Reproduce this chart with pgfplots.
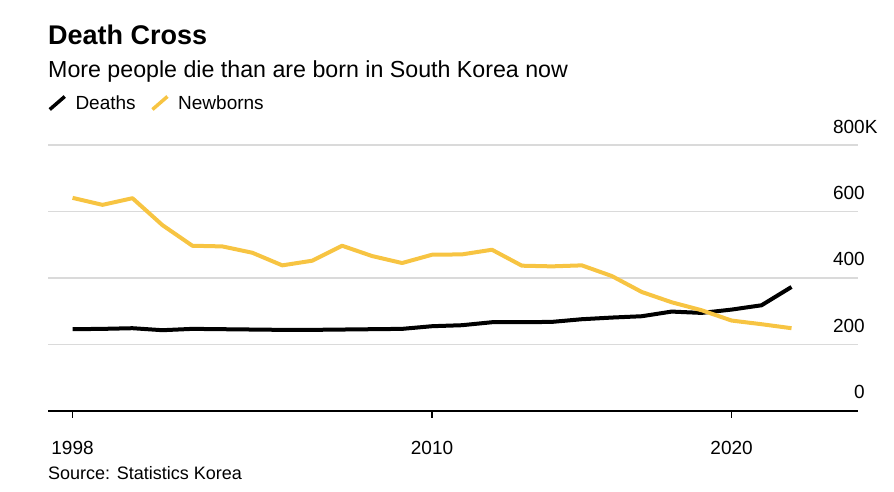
\documentclass[border=0pt]{standalone}
\usepackage{pgfplots}
\pgfplotsset{compat=1.18}
\usepackage{fontspec}
\setmainfont{Liberation Sans}
\definecolor{byellow}{RGB}{247,196,66}
\definecolor{bgrid}{RGB}{218,218,218}
\begin{document}
\begin{tikzpicture}
\path[use as bounding box] (0pt,0pt) rectangle (894pt,492pt);
\node[anchor=base west, inner sep=0pt] at (48pt,447pt) {\fontsize{27}{30}\selectfont\bfseries Death Cross};
\node[anchor=base west, inner sep=0pt] at (48pt,414pt) {\fontsize{23.2}{26}\selectfont More people die than are born in South Korea now};
\node[anchor=base west, inner sep=0pt] at (48pt,12pt) {\fontsize{18}{21}\selectfont Source: Statistics Korea};
\begin{axis}[
  at={(48pt,81pt)}, anchor=south west,
  scale only axis, width=810pt, height=266pt,
  xmin=1997.18, xmax=2024.22, ymin=0, ymax=800,
  axis x line*=bottom, axis y line*=right,
  y axis line style={draw=none},
  x axis line style={line width=1.3pt, black},
  xtick={1998,2010,2020},
  xticklabels={1998,2010,2020},
  ytick={0,200,400,600,800},
  yticklabels={0,200,400,600,800\rlap{K}},
  yticklabel pos=right,
  tick align=outside, major tick length=7pt,
  xtick style={line width=1.2pt, black},
  ytick style={draw=none},
  ymajorgrids, grid style={bgrid, line width=1.6pt},
  tick label style={font=\fontsize{19}{22}\selectfont, inner sep=0pt},
  xticklabel style={anchor=base, yshift=-37pt},
  yticklabel style={anchor=base east, yshift=12pt},
  legend style={at={(0,1)}, anchor=west, yshift=42pt, draw=none, fill=none,
    inner sep=0pt, outer sep=0pt,
    nodes={inner sep=0pt, font=\fontsize{19}{22}\selectfont},
    /tikz/every odd column/.append style={column sep=9pt},
    /tikz/every even column/.append style={column sep=15pt}},
  legend columns=-1,
  legend image code/.code={\draw[#1, line width=3.5pt] (0pt,-6.5pt) -- (15pt,6.5pt);},
]
\addplot[black, line width=4pt, line join=round, no marks] coordinates {
(1998,246) (1999,247) (2000,249) (2001,243) (2002,247) (2003,246) (2004,245)
(2005,244) (2006,244) (2007,245) (2008,246) (2009,247) (2010,255) (2011,258)
(2012,267) (2013,267) (2014,268) (2015,276) (2016,281) (2017,285) (2018,299)
(2019,295) (2020,305) (2021,318) (2022,373)};
\addlegendentry{Deaths}
\addplot[byellow, line width=4pt, line join=round, no marks] coordinates {
(1998,641) (1999,620) (2000,640) (2001,559) (2002,497) (2003,495) (2004,476)
(2005,438) (2006,452) (2007,497) (2008,466) (2009,445) (2010,470) (2011,471)
(2012,485) (2013,437) (2014,435) (2015,438) (2016,406) (2017,358) (2018,327)
(2019,303) (2020,272) (2021,261) (2022,249)};
\addlegendentry{Newborns}
\end{axis}
\end{tikzpicture}
\end{document}
